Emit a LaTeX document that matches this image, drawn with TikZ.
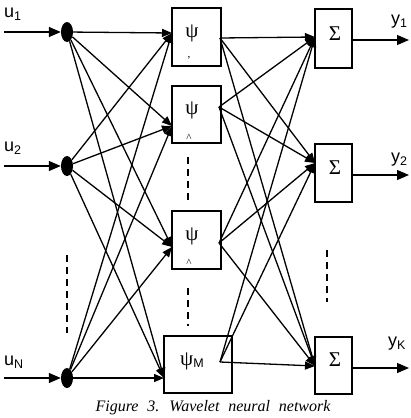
\documentclass[tikz,border=0pt]{standalone}
\usepackage{fontspec}
\setmainfont{Liberation Serif}
\setsansfont{Liberation Sans}
\usetikzlibrary{arrows.meta,shapes.geometric}
\newcommand{\sub}[1]{{\fontsize{12.5}{12.5}\selectfont\raisebox{-3pt}{#1}}}
\begin{document}
\begin{tikzpicture}[x=1pt,y=-1pt,
  box/.style={draw,line width=1.3pt,inner sep=0pt},
  dotn/.style={ellipse,fill=black,minimum width=12pt,minimum height=20pt,inner sep=0pt},
  arr/.style={line width=1.3pt,-{Triangle[length=10pt,width=8pt]}},
  inarr/.style={line width=1.3pt,-{Triangle[length=12pt,width=10pt]}},
  dashline/.style={line width=1.4pt,dash pattern=on 7pt off 5pt},
  lab/.style={font=\sffamily\fontsize{18}{18}\selectfont,inner sep=0pt,anchor=west},
  sym/.style={font=\fontsize{21}{21}\selectfont,inner sep=0pt},
  tick/.style={font=\fontsize{11}{11}\selectfont,inner sep=0pt}]
\useasboundingbox (0,0) rectangle (410,418);

% input labels
\node[lab] (lu1) at (4,14) {u\sub{1}};
\node[lab] (lu2) at (4,148) {u\sub{2}};
\node[lab] (lu3) at (4,362) {u\sub{N}};

% dots
\node[dotn] (d1) at (67,32) {};
\node[dotn] (d2) at (67,166) {};
\node[dotn] (d3) at (67,378) {};
\coordinate (i1) at (4,32);
\coordinate (i2) at (4,166);
\coordinate (i3) at (4,378);
\draw[inarr] (i1) -- (d1);
\draw[inarr] (i2) -- (d2);
\draw[inarr] (i3) -- (d3);

% psi boxes
\node[box,minimum width=49pt,minimum height=58pt] (P1) at (196.5,37) {};
\node[box,minimum width=49pt,minimum height=57pt] (P2) at (196.5,114.5) {};
\node[box,minimum width=49pt,minimum height=58pt] (P3) at (196.5,240) {};
\node[box,minimum width=68pt,minimum height=57pt] (P4) at (198,364.5) {};
\node[sym] (s1) at (192,33) {ψ};
\node[sym] (s2) at (192,110) {ψ};
\node[sym] (s3) at (192,236) {ψ};
\node[sym,anchor=west] (s4) at (180,361) {ψ{\sffamily\fontsize{12.5}{12.5}\selectfont\raisebox{-2.5pt}{M}}};
\node[tick] (m1) at (189,58) {,};
\node[tick] (m2) at (189,138) {\textasciicircum};
\node[tick] (m3) at (189,263) {\textasciicircum};

% sigma boxes
\node[box,minimum width=37pt,minimum height=59pt] (S1) at (333.5,38.5) {};
\node[box,minimum width=37pt,minimum height=58pt] (S2) at (333.5,173) {};
\node[box,minimum width=37pt,minimum height=57pt] (S3) at (333.5,365.5) {};
\node[sym] (g1) at (335,34) {Σ};
\node[sym] (g2) at (335,168) {Σ};
\node[sym] (g3) at (335,360) {Σ};

% tips into psi
\coordinate (t1) at (172,33);
\coordinate (t2) at (172,126);
\coordinate (t3) at (172,247);
\coordinate (t4) at (164,378);
\foreach \d in {d1,d2,d3}{
  \foreach \t in {t1,t2,t3,t4}{
    \draw[arr] (\d) -- (\t);
  }
}

% psi outputs to sigma
\coordinate (q1) at (220,38);
\coordinate (q2) at (219,107);
\coordinate (q3) at (219,243);
\coordinate (q4) at (220,362);
\coordinate (r1) at (315,37);
\coordinate (r2) at (315,163);
\coordinate (r3) at (315,366);
\foreach \q in {q1,q2,q3,q4}{
  \foreach \r in {r1,r2,r3}{
    \draw[arr] (\q) -- (\r);
  }
}

% outputs
\coordinate (o1) at (409,40);
\coordinate (o2) at (409,175);
\coordinate (o3) at (409,368);
\draw[inarr] (S1.east |- o1) -- (o1);
\draw[inarr] (S2.east |- o2) -- (o2);
\draw[inarr] (S3.east |- o3) -- (o3);
\node[lab] (ly1) at (391,22) {y\sub{1}};
\node[lab] (ly2) at (391,160) {y\sub{2}};
\node[lab] (ly3) at (388,344) {y\sub{K}};

% dashed lines
\coordinate (a1) at (67,255);
\coordinate (a2) at (67,333);
\draw[dashline] (a1) -- (a2);
\coordinate (b1) at (188,157);
\coordinate (b2) at (188,204);
\draw[dashline] (b1) -- (b2);
\coordinate (b3) at (188,288);
\coordinate (b4) at (188,326);
\draw[dashline] (b3) -- (b4);
\coordinate (c1) at (327,250);
\coordinate (c2) at (327,302);
\draw[dashline] (c1) -- (c2);

% caption
\node[font=\itshape\fontsize{16}{16}\selectfont,inner sep=0pt] (cap) at (213,408) {\spaceskip=0.55em Figure 3. Wavelet neural network};
\end{tikzpicture}
\end{document}
